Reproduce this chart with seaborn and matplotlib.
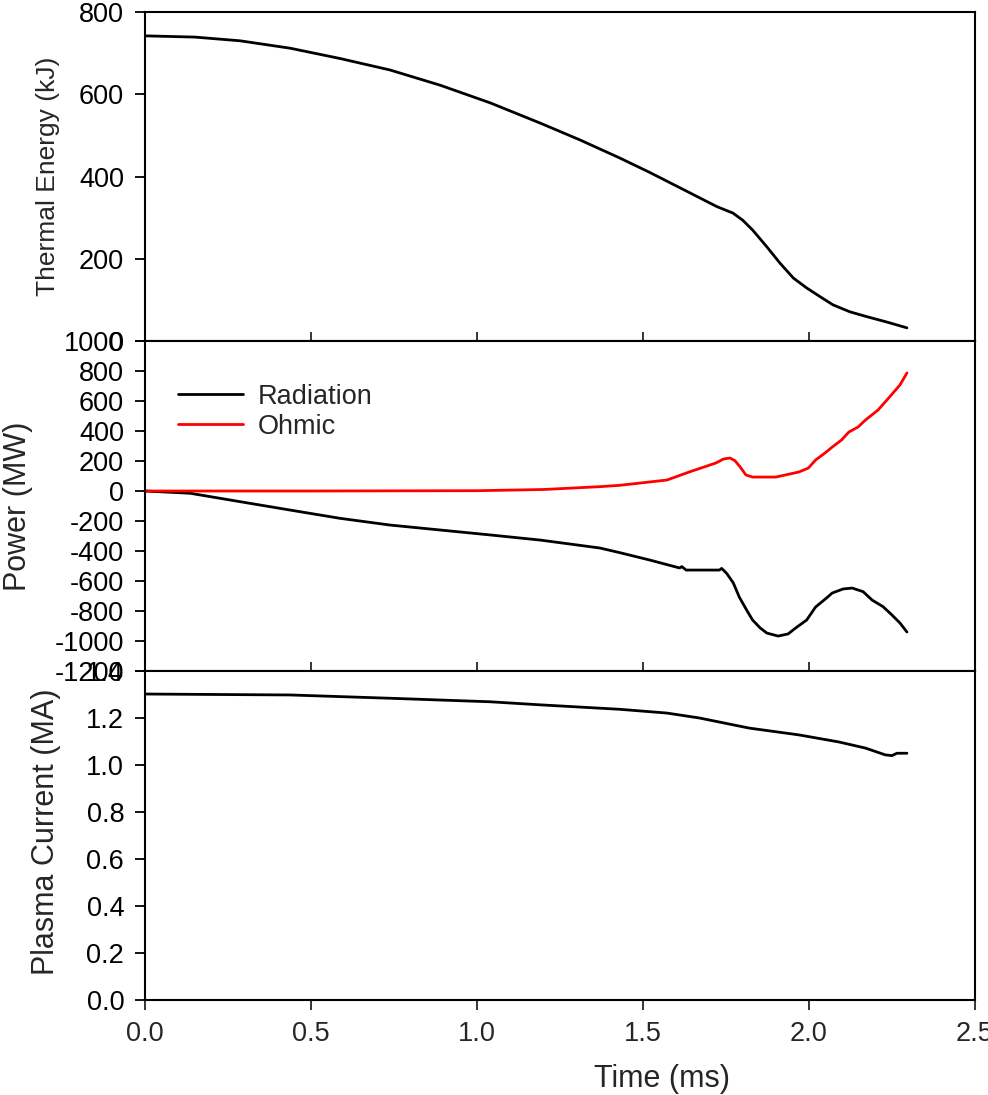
import numpy as np
import pandas as pd
import seaborn as sns
import matplotlib.pyplot as plt
from matplotlib.ticker import FormatStrFormatter, MultipleLocator

# thermal energy (kJ)
t_we = [0, 0.15, 0.286, 0.437, 0.587, 0.738, 0.889, 1.04, 1.19, 1.31, 1.43, 1.52, 1.62,
        1.722, 1.771, 1.80, 1.83, 1.873, 1.913, 1.953, 1.993, 2.033, 2.072, 2.123,
        2.175, 2.235, 2.295]
we = [742, 739, 730, 712, 687, 659, 622, 579, 530, 489, 445, 410, 369,
      327, 311, 294, 270, 229, 189, 153, 129, 108, 88, 71,
      59, 46, 32]

# power (MW)
t_rad = [0, 0.136, 0.286, 0.437, 0.587, 0.738, 0.889, 1.04, 1.19, 1.37, 1.43, 1.52,
         1.61, 1.617, 1.63, 1.73, 1.737, 1.752, 1.772, 1.79, 1.812, 1.83, 1.853,
         1.873, 1.907, 1.937, 1.96, 1.993, 2.02, 2.053, 2.07, 2.103, 2.13, 2.163,
         2.19, 2.223, 2.25, 2.274, 2.295]
rad = [0, -15, -71, -127, -182, -227, -260, -293, -327, -380, -411, -460,
       -513, -504, -527, -527, -516, -549, -613, -707, -793, -860, -913,
       -947, -967, -953, -913, -860, -773, -713, -680, -653, -647, -671,
       -727, -771, -827, -880, -940]
t_ohm = [0, 0.5, 1.0, 1.2, 1.37, 1.43, 1.572, 1.642, 1.72, 1.742, 1.762, 1.777, 1.792,
         1.81, 1.83, 1.90, 1.97, 1.998, 2.02, 2.048, 2.07, 2.098, 2.12, 2.148,
         2.17, 2.208, 2.24, 2.274, 2.295]
ohm = [0, 0, 2, 10, 29, 38, 73, 129, 187, 213, 220, 202, 162,
       107, 93, 93, 127, 153, 207, 253, 293, 340, 393, 427,
       473, 540, 620, 707, 787]

# plasma current (MA)
t_ip = [0, 0.437, 0.738, 1.04, 1.19, 1.43, 1.572, 1.67, 1.82, 1.97, 2.09, 2.17,
        2.23, 2.25, 2.265, 2.295]
ip = [1.302, 1.298, 1.284, 1.269, 1.256, 1.237, 1.221, 1.20, 1.157, 1.128, 1.098, 1.072,
      1.043, 1.040, 1.05, 1.05]

sns.set_style('ticks')
plt.rcParams['font.family'] = ['Liberation Sans', 'DejaVu Sans']
plt.rcParams['axes.unicode_minus'] = False

fig = plt.figure(figsize=(9.88, 10.95), dpi=100)
left, width = 0.14676, 0.84008
ax1 = fig.add_axes([left, 0.68858, width, 0.30046])
ax2 = fig.add_axes([left, 0.38721, width, 0.30137])
ax3 = fig.add_axes([left, 0.08676, width, 0.30046])

lw = 2.0
sns.lineplot(x=t_we, y=we, ax=ax1, color='black', lw=lw, sort=False, estimator=None)
sns.lineplot(x=t_rad, y=rad, ax=ax2, color='black', lw=lw, sort=False, estimator=None,
             label='Radiation')
sns.lineplot(x=t_ohm, y=ohm, ax=ax2, color='red', lw=lw, sort=False, estimator=None,
             label='Ohmic')
sns.lineplot(x=t_ip, y=ip, ax=ax3, color='black', lw=lw, sort=False, estimator=None)

for ax in (ax1, ax2, ax3):
    ax.set_xlim(0, 2.5)
    ax.xaxis.set_major_locator(MultipleLocator(0.5))
    for s in ax.spines.values():
        s.set_linewidth(1.5)
        s.set_color('black')
    ax.tick_params(axis='y', direction='out', length=7, width=1.3, labelsize=19.5,
                   pad=8, colors='black')
    ax.set_xlabel('')

for ax in (ax1, ax2):
    ax.tick_params(axis='x', direction='in', length=6.5, width=1.3, labelbottom=False)

ax3.tick_params(axis='x', direction='out', length=7, width=1.3, labelsize=19.5, pad=8)
ax3.xaxis.set_major_formatter(FormatStrFormatter('%.1f'))

ax1.set_ylim(0, 800)
ax1.set_yticks([0, 200, 400, 600, 800])
ax2.set_ylim(-1200, 1000)
ax2.set_yticks(np.arange(-1200, 1001, 200))
ax3.set_ylim(0, 1.4)
ax3.set_yticks(np.arange(0, 1.41, 0.2))
ax3.yaxis.set_major_formatter(FormatStrFormatter('%.1f'))

ax1.set_ylabel('Thermal Energy (kJ)', fontsize=19)
ax1.yaxis.set_label_coords(-0.102, 0.5)
ax2.set_ylabel('Power (MW)', fontsize=22)
ax2.yaxis.set_label_coords(-0.135, 0.5)
ax3.set_ylabel('Plasma Current (MA)', fontsize=22)
ax3.yaxis.set_label_coords(-0.101, 0.51)
ax3.set_xlabel('Time (ms)', fontsize=22)
ax3.xaxis.set_label_coords(0.623, -0.195)

ax2.legend(loc='upper left', bbox_to_anchor=(0.04, 0.87), frameon=False, fontsize=19.5,
           handlelength=2.4, handletextpad=0.55, labelspacing=0.15, borderpad=0,
           borderaxespad=0)

fig.savefig('out.png', dpi=100)
